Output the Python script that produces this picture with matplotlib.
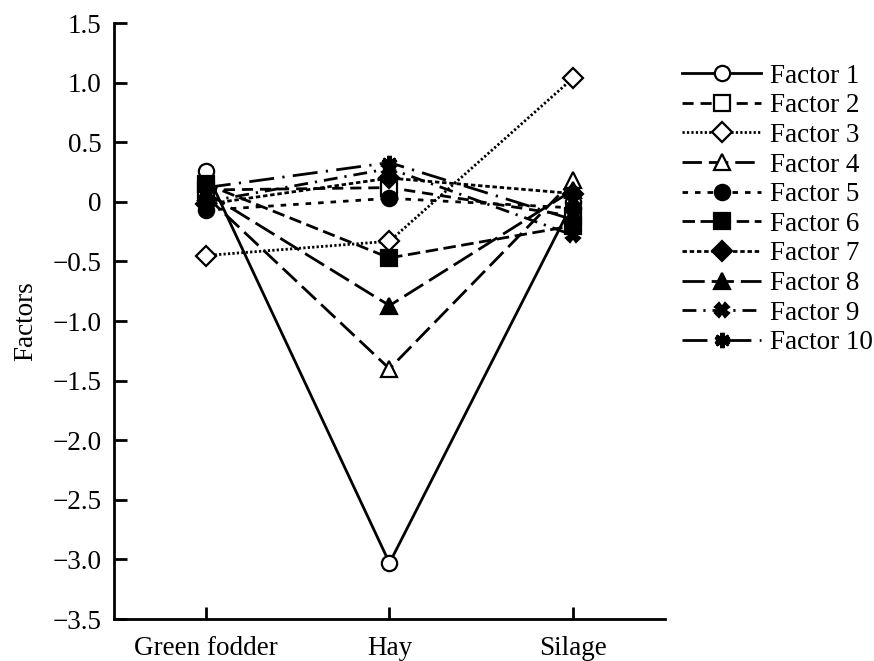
import matplotlib.pyplot as plt
import numpy as np

# data
feeds = ["Green fodder", "Hay", "Silage"]
factor_names = ["Factor %d" % i for i in range(1, 11)]
f1 = [0.26, -3.03, 0.00]
f2 = [0.10, 0.12, -0.12]
f3 = [-0.45, -0.33, 1.04]
f4 = [0.05, -1.40, 0.18]
f5 = [-0.07, 0.03, -0.05]
f6 = [0.15, -0.47, -0.20]
f7 = [-0.02, 0.20, 0.07]
f8 = [0.08, -0.87, 0.10]
f9 = [0.00, 0.28, -0.28]
f10 = [0.12, 0.33, -0.15]
factors = [f1, f2, f3, f4, f5, f6, f7, f8, f9, f10]

# line style, marker, filled?
styles = [
    ("-", "o", False),
    ((0, (4, 2.5)), "s", False),
    ((0, (0.8, 0.8)), "D", False),
    ((0, (7, 2.5)), "^", False),
    ((0, (2, 2.5)), "o", True),
    ((0, (4.5, 2)), "s", True),
    ((0, (1.6, 1)), "D", True),
    ((0, (8, 2.5)), "^", True),
    ((0, (5, 2.5, 0.8, 2.5)), "X", True),
    ((0, (9, 3, 0.8, 3)), (6, 2, 0), True),
]

plt.rcParams['font.family'] = ['Liberation Serif', 'DejaVu Serif']
plt.rcParams['font.size'] = 19.5

fig = plt.figure(figsize=(8.74, 6.61), dpi=100)
ax = fig.add_axes([0.1304, 0.0635, 0.6305, 0.9015])

x = np.arange(len(feeds))
for vals, name, (ls, mk, filled) in zip(factors, factor_names, styles):
    ms = 11
    if mk in ("D", "X"):
        ms = 10
    ax.plot(x, vals, linestyle=ls, marker=mk, color="black", lw=2,
            markersize=ms, markeredgewidth=1.6 if mk != (6, 2, 0) else 3.5,
            markerfacecolor="black" if filled else "white",
            markeredgecolor="black", label=name)

ax.set_xlim(-0.5, 2.5)
ax.set_ylim(-3.5, 1.5)
ax.set_xticks(x)
ax.set_xticklabels(feeds)
ax.set_yticks(np.arange(-3.5, 1.51, 0.5))
ax.set_yticklabels(["\u22123.5", "\u22123.0", "\u22122.5", "\u22122.0", "\u22121.5",
                    "\u22121.0", "\u22120.5", "0", "0.5", "1.0", "1.5"])
ax.spines['top'].set_visible(False)
ax.spines['right'].set_visible(False)
ax.spines['left'].set_linewidth(2)
ax.spines['bottom'].set_linewidth(2)
ax.tick_params(direction="in", length=9, width=2)
ax.tick_params(axis="y", pad=9)
ax.tick_params(axis="x", pad=12)
ax.set_ylabel("Factors", labelpad=10)

ax.legend(loc="upper left", bbox_to_anchor=(1.012, 0.95), frameon=False,
          handlelength=2.9, handletextpad=0.35, labelspacing=0.17,
          borderaxespad=0, fontsize=19.5)

fig.savefig("out.png", dpi=100)
